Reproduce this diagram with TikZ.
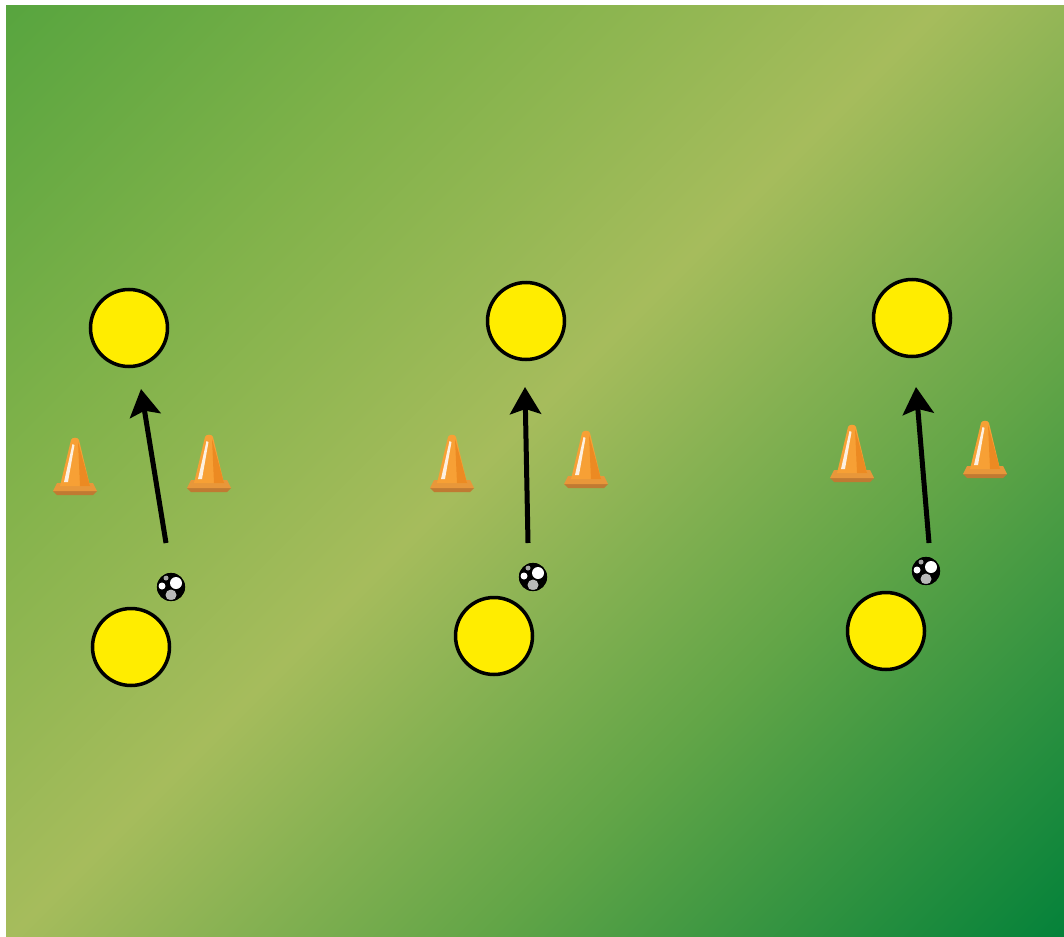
\documentclass[tikz,border=0pt]{standalone}
\usetikzlibrary{arrows.meta}
\definecolor{fTL}{HTML}{58A53F}
\definecolor{fQ}{HTML}{80B24A}
\definecolor{fBand}{HTML}{A6BC5C}
\definecolor{fR}{HTML}{62A547}
\definecolor{fBR}{HTML}{05823A}
\definecolor{spotyellow}{HTML}{FFED00}
\definecolor{conebody}{HTML}{F7A035}
\definecolor{conedark}{HTML}{EC8A22}
\definecolor{conebase}{HTML}{E8973A}
\definecolor{conebasedark}{HTML}{C07A32}
\pgfdeclareverticalshading{fieldshade}{100bp}{%
  color(0bp)=(fBR); color(14.64bp)=(fBR); color(35.1bp)=(fR);
  color(52.1bp)=(fBand); color(69.1bp)=(fQ); color(85.36bp)=(fTL); color(100bp)=(fTL)}
\tikzset{
  player/.style={circle, draw=black, line width=3.5pt, fill=spotyellow, minimum size=77pt, inner sep=0pt},
  run/.style={line width=5pt, -{Stealth[length=27pt,width=31pt,inset=5pt]}},
  pics/cone/.style={code={
    \fill[conebasedark] (-22,-4) -- (-18,0) -- (18,0) -- (22,-4) -- cycle;
    \fill[conebase] (-22,-4) -- (-18,-12) -- (18,-12) -- (22,-4) -- cycle;
    \fill[conebody] (-15,-9) -- (-4,-55) to[out=75,in=105] (4,-55) -- (15,-9) -- cycle;
    \fill[conedark] (3,-53) -- (15,-9) -- (5,-9) -- cycle;
    \fill[white, opacity=0.85] (-11,-13) -- (-2.5,-51) -- (-0.5,-50) -- (-7,-13) -- cycle;
  }},
  pics/ball/.style={code={
    \fill[black] (0,0) circle (14);
    \fill[gray!55] (0,8) circle (5.5);
    \fill[white] (5,-4) circle (6);
    \fill[white] (-9,-1) circle (3.5);
    \fill[gray!70] (-5,-9) circle (2.5);
    \draw[black, line width=1.2pt] (0,0) circle (13.5);
  }}
}
\begin{document}
\begin{tikzpicture}[x=1pt,y=-1pt]
\useasboundingbox (0,0) rectangle (1064,936);
\fill[white] (0,0) rectangle (1064,936);
\shade[shading=fieldshade, shading angle=45] (6,6) rectangle (1064,936);

% group 1
\node[player] (t1) at (129,328) {};
\node[player] (b1) at (131,647) {};
\coordinate (s1) at (166,543);
\coordinate (e1) at (141,389);
\draw[run] (s1) -- (e1);
\pic at (75,495) {cone};
\pic at (209,492) {cone};
\pic at (171,587) {ball};

% group 2
\node[player] (t2) at (526,321) {};
\node[player] (b2) at (494,636) {};
\coordinate (s2) at (528,543);
\coordinate (e2) at (525,387);
\draw[run] (s2) -- (e2);
\pic at (452,492) {cone};
\pic at (586,488) {cone};
\pic at (533,577) {ball};

% group 3
\node[player] (t3) at (912,318) {};
\node[player] (b3) at (886,631) {};
\coordinate (s3) at (929,543);
\coordinate (e3) at (916,387);
\draw[run] (s3) -- (e3);
\pic at (852,482) {cone};
\pic at (985,478) {cone};
\pic at (926,571) {ball};
\end{tikzpicture}
\end{document}
